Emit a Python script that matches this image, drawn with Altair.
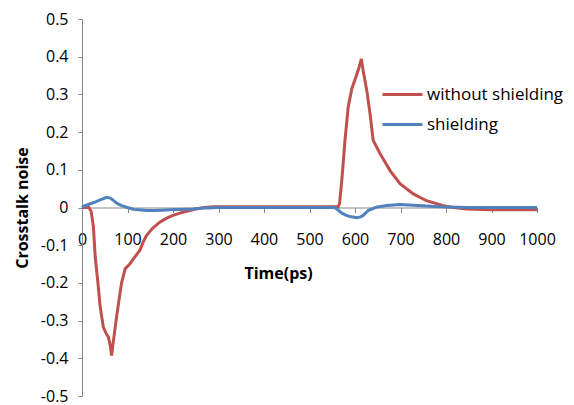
import altair as alt
import pandas as pd

# Red series: without shielding
red_t = [0, 15, 20, 25, 29, 35, 40, 47, 53, 58, 62, 65, 70, 76, 82, 87, 95, 105, 113, 120,
         127, 135, 142, 155, 171, 185, 200, 215, 230, 250, 268, 290, 350, 450, 540, 563,
         566, 571, 578, 585, 593, 602, 609, 614, 618, 626, 633, 640, 655, 677, 699, 728,
         757, 794, 816, 845, 900, 1000]
red_v = [0, 0, -0.01, -0.05, -0.13, -0.2, -0.264, -0.318, -0.334, -0.344, -0.365, -0.393,
         -0.345, -0.29, -0.24, -0.2, -0.162, -0.15, -0.136, -0.125, -0.114, -0.09, -0.074,
         -0.055, -0.039, -0.029, -0.021, -0.015, -0.01, -0.004, 0, 0.002, 0.002, 0.002,
         0.002, 0.002, 0.01, 0.072, 0.178, 0.266, 0.315, 0.346, 0.372, 0.394, 0.363, 0.31,
         0.249, 0.178, 0.143, 0.098, 0.063, 0.036, 0.018, 0.005, 0, -0.004, -0.006, -0.006]

# Blue series: shielding
blue_t = [0, 3, 18, 30, 40, 54, 62, 69, 78, 87, 100, 113, 125, 142, 160, 175, 193, 215, 245,
          274, 300, 400, 500, 555, 560, 571, 580, 589, 604, 612, 618, 629, 647, 670, 699,
          728, 757, 801, 850, 1000]
blue_v = [0, 0.003, 0.01, 0.015, 0.02, 0.027, 0.025, 0.019, 0.01, 0.005, 0, -0.005, -0.006,
          -0.008, -0.008, -0.007, -0.006, -0.005, -0.004, -0.001, 0, 0, 0, 0, -0.004, -0.015,
          -0.02, -0.024, -0.027, -0.025, -0.021, -0.008, 0.001, 0.005, 0.008, 0.006, 0.004,
          0.001, 0, 0]

series_names = ["without shielding", "shielding"]
series_colors = ["#C0504D", "#4F81BD"]
x_ticks = list(range(0, 1001, 100))
y_ticks = [round(-0.5 + 0.1 * i, 1) for i in range(11)]

red_df = pd.DataFrame({"t": red_t, "v": red_v, "s": series_names[0]})
blue_df = pd.DataFrame({"t": blue_t, "v": blue_v, "s": series_names[1]})

FONT = "Open Sans"
GRAY = "#868686"

x_enc = alt.X(
    "t:Q",
    scale=alt.Scale(domain=[0, 1000], nice=False, zero=False),
    axis=alt.Axis(
        values=x_ticks, format="d", title="Time(ps)", grid=False,
        offset=-188.5, tickSize=5, labelPadding=27, labelBaseline="middle",
        titleX=196, titleY=66, titleBaseline="middle", titleAlign="center",
        labelFlush=False, labelOverlap=False,
    ),
)
y_enc = alt.Y(
    "v:Q",
    scale=alt.Scale(domain=[-0.5, 0.5], nice=False, zero=False),
    axis=alt.Axis(
        values=y_ticks, title="Crosstalk noise", grid=False,
        labelExpr="'' + round(datum.value * 10) / 10",
        tickSize=4, labelPadding=10, titleAngle=270,
        titleX=-60, titleY=188.5, titleAlign="center", titleBaseline="middle",
        labelFlush=False, labelOverlap=False,
    ),
)
color_enc = alt.Color(
    "s:N",
    scale=alt.Scale(domain=series_names, range=series_colors),
    legend=alt.Legend(
        title=None, orient="none", legendX=303, legendY=58, padding=0,
        symbolType="M -1.25 0 L 1.25 0", symbolSize=1024, symbolStrokeWidth=3,
        labelOffset=7, rowPadding=4, labelFont=FONT, labelFontSize=17,
        labelColor="#000000", labelLimit=400,
    ),
)

red = alt.Chart(red_df).mark_line(strokeWidth=3).encode(x=x_enc, y=y_enc, color=color_enc)
blue = alt.Chart(blue_df).mark_line(strokeWidth=3).encode(x=x_enc, y=y_enc, color=color_enc)

chart = (
    alt.layer(red, blue)
    .properties(
        width=455, height=377,
        autosize=alt.AutoSizeParams(type="none"),
        padding={"left": 74, "top": 11, "right": 29, "bottom": 9},
    )
    .configure_view(stroke=None)
    .configure_axis(
        domainColor=GRAY, tickColor=GRAY, domainWidth=1, tickWidth=1,
        labelFont=FONT, labelFontSize=16, labelColor="#000000",
        titleFont=FONT, titleFontSize=16, titleFontWeight="bold", titleColor="#000000",
    )
)

chart.save("out.html", embed_options={"renderer": "svg", "actions": False})
